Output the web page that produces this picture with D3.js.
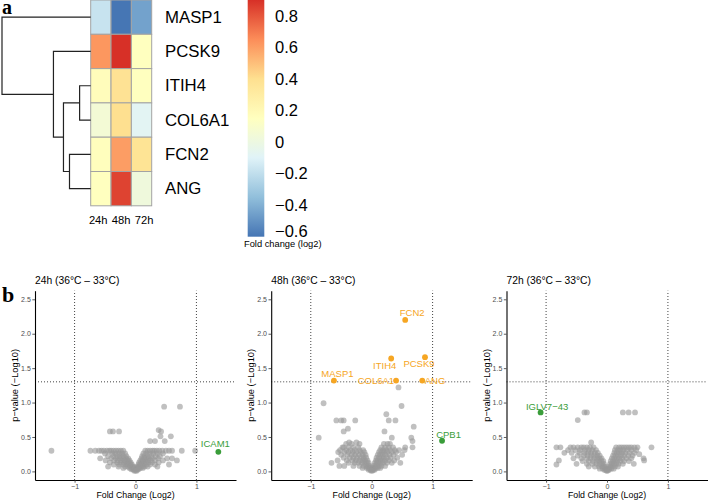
<!DOCTYPE html>
<html><head><meta charset="utf-8">
<script src="https://cdn.jsdelivr.net/npm/d3@7"></script>
<style>
body{margin:0;background:#fff}
svg{display:block}
text{font-family:"Liberation Sans",Arial,Helvetica,sans-serif}
</style>
</head><body>
<svg id="c" width="708" height="502"></svg>
<script>
// ---------------- DATA ----------------
const cols = ["24h", "48h", "72h"];
const genes = ["MASP1", "PCSK9", "ITIH4", "COL6A1", "FCN2", "ANG"];
const fc24 = [-0.18, 0.62, 0.17, 0.05, 0.16, 0.15];
const fc48 = [-0.60, 0.90, 0.38, 0.40, 0.60, 0.85];
const fc72 = [-0.45, 0.15, 0.15, -0.08, 0.37, 0.02];
const colorTicks = [-0.6, -0.4, -0.2, 0, 0.2, 0.4, 0.6, 0.8];
const colorRange = [-0.603, 0.9];
// hierarchical clustering merges (children: gene name or index of earlier merge), height
const merges = [
  {a: "ITIH4", b: "COL6A1", h: 0.125},
  {a: "FCN2", b: "ANG", h: 0.239},
  {a: 0, b: 1, h: 0.307},
  {a: "PCSK9", b: 2, h: 0.42},
  {a: "MASP1", b: 3, h: 1.0}
];

const panelTitles = ["24h (36\u00b0C \u2013 33\u00b0C)", "48h (36\u00b0C \u2013 33\u00b0C)", "72h (36\u00b0C \u2013 33\u00b0C)"];
const xTicks = [-1, 0, 1];
const yTicks = [0, 0.5, 1, 1.5, 2, 2.5];
const pCut = 1.301;      // -log10(0.05)
const fcCut = [-1, 1];

// grey (non-significant) proteins: [p-value(-log10), [fold changes...]]
const grey24 = [
  [0.94, [0.47, 0.73]],
  [0.60, [0.38]],
  [0.58, [-0.42, -0.37, -0.27, 0.42]],
  [0.51, [0.41, 0.58]],
  [0.44, [0.24, 0.32, 0.48]],
  [0.30, [-1.38, -0.74, -0.66, -0.6, -0.56, -0.52, -0.47, -0.43, -0.4, -0.36, -0.32, -0.28, -0.24, -0.2, 0.16, 0.2, 0.24, 0.28, 0.31, 0.35, 0.39, 0.44, 0.5, 0.55, 0.6, 0.76, 0.98]],
  [0.26, [-0.5, -0.38, -0.33, -0.27, -0.22, -0.17, 0.13, 0.18, 0.23, 0.29, 0.36, 0.45]],
  [0.22, [-0.45, -0.36, -0.3, -0.25, -0.2, -0.15, 0.11, 0.15, 0.2, 0.26, 0.33, 0.4]],
  [0.19, [-0.58, -0.4, -0.32, -0.26, -0.21, -0.16, -0.12, 0.1, 0.14, 0.18, 0.22, 0.28, 0.37, 0.52, 0.6]],
  [0.16, [-0.49, -0.35, -0.29, -0.23, -0.18, -0.13, -0.1, 0.08, 0.12, 0.16, 0.2, 0.25, 0.32, 0.45, 0.68]],
  [0.13, [-0.42, -0.3, -0.24, -0.19, -0.15, -0.11, -0.08, 0.06, 0.1, 0.13, 0.17, 0.21, 0.27, 0.38]],
  [0.10, [-0.36, -0.27, -0.2, -0.15, -0.11, -0.08, -0.06, 0.05, 0.08, 0.11, 0.14, 0.18, 0.24, 0.32, 0.55]],
  [0.07, [-0.45, -0.28, -0.17, -0.12, -0.08, -0.05, -0.03, 0.03, 0.06, 0.09, 0.12, 0.15, 0.2, 0.36]],
  [0.05, [-0.2, -0.1, -0.06, -0.03, 0.02, 0.05, 0.08, 0.12]],
  [0.03, [-0.07, -0.04, -0.02, 0.01, 0.03, 0.05]],
  [0.01, [-0.02, 0.0, 0.02]]
];
const grey48 = [
  [1.22, [0.44]],
  [0.99, [-0.79]],
  [0.95, [0.49]],
  [0.83, [0.24]],
  [0.74, [-0.58, -0.5, -0.46, -0.27, 0.28, 0.39]],
  [0.65, [0.69]],
  [0.62, [-0.39]],
  [0.58, [-0.46, 0.21]],
  [0.49, [-0.87, 0.65, 0.33]],
  [0.44, [0.67]],
  [0.42, [-0.37, -0.25]],
  [0.40, [-0.42, -0.33, -0.2, 0.2, 0.26, 0.3]],
  [0.35, [-0.48, -0.46, -0.38, -0.3, -0.22, 0.16, 0.22, 0.28, 0.35, 0.55, 0.67]],
  [0.31, [-0.52, -0.42, -0.35, -0.28, -0.2, -0.14, 0.14, 0.19, 0.24, 0.3, 0.38, 0.45, 0.54]],
  [0.28, [-0.55, -0.45, -0.38, -0.31, -0.25, -0.18, -0.12, 0.12, 0.17, 0.21, 0.26, 0.33, 0.4]],
  [0.24, [-0.5, -0.4, -0.33, -0.27, -0.21, -0.15, -0.1, 0.1, 0.14, 0.18, 0.23, 0.29, 0.36, 0.5]],
  [0.20, [-0.46, -0.36, -0.3, -0.24, -0.18, -0.13, -0.09, 0.08, 0.12, 0.16, 0.2, 0.25, 0.31, 0.42]],
  [0.16, [-0.56, -0.41, -0.32, -0.26, -0.2, -0.15, -0.11, -0.07, 0.07, 0.1, 0.14, 0.18, 0.22, 0.28, 0.37]],
  [0.125, [-0.66, -0.38, -0.28, -0.22, -0.16, -0.12, -0.08, -0.05, 0.05, 0.08, 0.11, 0.15, 0.19, 0.25, 0.33, 0.47]],
  [0.08, [-0.53, -0.45, -0.3, -0.2, -0.13, -0.09, -0.06, -0.03, 0.03, 0.06, 0.09, 0.12, 0.16, 0.22]],
  [0.05, [-0.15, -0.08, -0.05, -0.02, 0.02, 0.04, 0.07, 0.1, 0.14]],
  [0.025, [-0.05, -0.02, 0.01, 0.03, 0.05]],
  [0.01, [-0.01, 0.01]]
];
const grey72 = [
  [0.857, [-0.37, -0.33, 0.26, 0.355, 0.46]],
  [0.745, [-0.48]],
  [0.42, [-0.26]],
  [0.35, [-0.83, -0.765, -0.6, -0.55, -0.48, -0.42, -0.38, -0.33, -0.28, -0.22, 0.15, 0.2, 0.24, 0.28, 0.32, 0.36, 0.4, 0.45, 0.5, 0.73]],
  [0.31, [-0.64, -0.52, -0.44, -0.36, -0.3, -0.24, -0.18, 0.13, 0.18, 0.22, 0.27, 0.33, 0.4, 0.48]],
  [0.27, [-0.7, -0.58, -0.45, -0.37, -0.31, -0.26, -0.2, -0.15, 0.12, 0.16, 0.2, 0.25, 0.3, 0.37, 0.45]],
  [0.25, [0.53]],
  [0.23, [-0.48, -0.38, -0.32, -0.26, -0.21, -0.16, -0.12, 0.1, 0.14, 0.18, 0.23, 0.28, 0.35, 0.42]],
  [0.19, [-0.55, -0.42, -0.33, -0.27, -0.21, -0.16, -0.12, -0.09, 0.08, 0.12, 0.16, 0.2, 0.25, 0.32, 0.4, 0.6]],
  [0.16, [-0.79, 0.61]],
  [0.15, [-0.4, -0.3, -0.23, -0.17, -0.13, -0.09, -0.06, 0.06, 0.1, 0.13, 0.17, 0.22, 0.28, 0.36]],
  [0.11, [-0.5, -0.33, -0.24, -0.17, -0.12, -0.08, -0.05, 0.05, 0.08, 0.11, 0.15, 0.19, 0.26, 0.44]],
  [0.10, [-0.83]],
  [0.07, [-0.3, -0.2, -0.13, -0.08, -0.05, -0.03, 0.03, 0.06, 0.09, 0.13, 0.18]],
  [0.04, [-0.12, -0.07, -0.04, -0.02, 0.02, 0.04, 0.07, 0.11]],
  [0.02, [-0.04, -0.01, 0.01, 0.03]],
  [0.005, [0.0]]
];
// labelled proteins: panel, gene, fold change, p
const hitPanel = [0, 1, 1, 1, 1, 1, 1, 1, 2];
const hitGene  = ["ICAM1", "FCN2", "ITIH4", "PCSK9", "MASP1", "COL6A1", "ANG", "CPB1", "IGLV7\u221243"];
const hitFc    = [1.36, 0.55, 0.32, 0.875, -0.62, 0.40, 0.83, 1.155, -1.09];
const hitP     = [0.285, 2.20, 1.64, 1.66, 1.32, 1.32, 1.32, 0.445, 0.857];
const hitGroup = ["other", "heat", "heat", "heat", "heat", "heat", "heat", "other", "other"];

// ---------------- STYLE ----------------
const font = '"Liberation Sans",Arial,Helvetica,sans-serif';
const palette = ["#4575B4", "#91BFDB", "#E0F3F8", "#FFFFBF", "#FEE090", "#FC8D59", "#D73027"];
const groupColor = {heat: "#F6A623", other: "#3A9D3A"};
// label placement (dx, dy, anchor) relative to point
const labelPlace = {
  "ICAM1": [-3, -8.5, "middle"], "FCN2": [7, -7, "middle"], "ITIH4": [-6.5, 6.5, "middle"],
  "PCSK9": [-6, 6.5, "middle"], "MASP1": [3.5, -7.5, "middle"], "COL6A1": [-2, 0, "end"],
  "ANG": [2.5, 0, "start"], "CPB1": [6.5, -6.5, "middle"], "IGLV7\u221243": [6.5, -6, "middle"]
};

const svg = d3.select("#c");

// ---------------- HEATMAP (a) ----------------
const rowY = d3.scaleBand().domain(genes).range([0, 205.8]);
const colX = d3.scaleBand().domain(cols).range([90.7, 151.7]);
const color = d3.scaleLinear()
  .domain(palette.map((_, i) => colorRange[0] + i * (colorRange[1] - colorRange[0]) / (palette.length - 1)))
  .range(palette).interpolate(d3.interpolateRgb);
const valuesByCol = [fc24, fc48, fc72];

const cells = [];
genes.forEach((g, i) => cols.forEach((c, j) => cells.push({g, c, v: valuesByCol[j][i]})));
svg.append("g").selectAll("rect").data(cells).join("rect")
  .attr("x", d => colX(d.c)).attr("y", d => rowY(d.g))
  .attr("width", colX.bandwidth()).attr("height", rowY.bandwidth())
  .attr("fill", d => color(d.v)).attr("stroke", "#a3a3a3").attr("stroke-width", 1);

svg.append("g").selectAll("text").data(genes).join("text")
  .attr("x", 165).attr("y", d => rowY(d) + rowY.bandwidth() / 2)
  .attr("dominant-baseline", "central").attr("font-size", 16.8).attr("fill", "#000")
  .text(d => d);

// column labels (spread slightly wider than the cells, as in the original)
const colMid = colX(cols[1]) + colX.bandwidth() / 2;
svg.append("g").selectAll("text").data(cols).join("text")
  .attr("x", d => { const c = colX(d) + colX.bandwidth() / 2; return c + (c - colMid) * 0.13; })
  .attr("y", 223.5)
  .attr("text-anchor", "middle").attr("font-size", 11.2).attr("fill", "#000")
  .text(d => d);

// dendrogram
const dx = d3.scaleLinear().domain([0, 1]).range([90.7, 2]);
const nodes = [];
function nodeOf(k) {
  if (typeof k === "string") return {y: rowY(k) + rowY.bandwidth() / 2, h: 0};
  return nodes[k];
}
const dend = svg.append("g").attr("fill", "none").attr("stroke", "#222").attr("stroke-width", 1.2);
merges.forEach(m => {
  const A = nodeOf(m.a), B = nodeOf(m.b);
  const path = d3.path();
  path.moveTo(dx(A.h), A.y); path.lineTo(dx(m.h), A.y);
  path.lineTo(dx(m.h), B.y); path.lineTo(dx(B.h), B.y);
  dend.append("path").attr("d", path.toString());
  nodes.push({y: (A.y + B.y) / 2, h: m.h});
});

svg.append("text").attr("x", 2).attr("y", 14)
  .style("font-family", '"Liberation Serif","Times New Roman",serif')
  .attr("font-weight", "bold").attr("font-size", 20).text("a");

// color bar
const cb = d3.scaleLinear().domain(colorRange).range([236.7, 0]);
const defs = svg.append("defs");
const grad = defs.append("linearGradient").attr("id", "cbg")
  .attr("x1", 0).attr("y1", 1).attr("x2", 0).attr("y2", 0);
palette.forEach((p, i) => grad.append("stop").attr("offset", i / (palette.length - 1)).attr("stop-color", p));
svg.append("rect").attr("x", 247.7).attr("y", cb(colorRange[1]))
  .attr("width", 16.6).attr("height", cb(colorRange[0]) - cb(colorRange[1]))
  .attr("fill", "url(#cbg)");
const f1 = d3.format(".1f");
svg.append("g").selectAll("text").data(colorTicks).join("text")
  .attr("x", 275).attr("y", d => Math.min(cb(d), cb(colorRange[0]) - 5.5))
  .attr("dominant-baseline", "central").attr("font-size", 16.5).attr("fill", "#000")
  .text(d => d === 0 ? "0" : f1(d));
svg.append("text").attr("x", 244).attr("y", 247).attr("font-size", 9.3).attr("fill", "#000")
  .text("Fold change (log2)");

// ---------------- VOLCANO PLOTS (b) ----------------
svg.append("text").attr("x", 2).attr("y", 302)
  .style("font-family", '"Liberation Serif","Times New Roman",serif')
  .attr("font-weight", "bold").attr("font-size", 22).text("b");

const panelLeft = [35, 271.2, 506.5];
const panelW = 201;
const yScale = d3.scaleLinear().domain([-0.125, 2.625]).range([480, 290.7]);
const greys = [grey24, grey48, grey72];

panelLeft.forEach((L, k) => {
  const x = d3.scaleLinear().domain([-1.65, 1.65]).range([L, L + panelW]);
  const y = yScale;
  const g = svg.append("g");

  const pts = [];
  greys[k].forEach(([p, fcs]) => fcs.forEach(f => pts.push({f, p})));
  g.append("g").selectAll("circle").data(pts).join("circle")
    .attr("cx", d => x(d.f)).attr("cy", d => y(d.p)).attr("r", 2.9)
    .attr("fill", "#9a9a9a").attr("fill-opacity", 0.62);

  // threshold lines
  const ln = g.append("g").attr("stroke", "#444").attr("stroke-width", 1).attr("stroke-dasharray", "1,2");
  ln.append("line").attr("x1", x.range()[0]).attr("x2", x.range()[1]).attr("y1", y(pCut)).attr("y2", y(pCut));
  fcCut.forEach(c => ln.append("line").attr("x1", x(c)).attr("x2", x(c)).attr("y1", y.range()[0]).attr("y2", y.range()[1]));

  // highlighted proteins
  const hits = hitGene.map((gname, i) => ({gname, f: hitFc[i], p: hitP[i], grp: hitGroup[i], panel: hitPanel[i]}))
    .filter(d => d.panel === k);
  g.append("g").selectAll("circle").data(hits).join("circle")
    .attr("cx", d => x(d.f)).attr("cy", d => y(d.p)).attr("r", 2.9)
    .attr("fill", d => groupColor[d.grp]);
  g.append("g").selectAll("text").data(hits).join("text")
    .attr("x", d => x(d.f) + labelPlace[d.gname][0])
    .attr("y", d => y(d.p) + labelPlace[d.gname][1])
    .attr("text-anchor", d => labelPlace[d.gname][2])
    .attr("dominant-baseline", "central")
    .attr("font-size", 9.5).attr("fill", d => groupColor[d.grp])
    .text(d => d.gname);

  // axes
  const ax = g.append("g").attr("transform", `translate(${L},0)`)
    .call(d3.axisLeft(y).tickValues(yTicks).tickFormat(d3.format(".1f")).tickSize(2.7).tickSizeOuter(0).tickPadding(1.5));
  const bx = g.append("g").attr("transform", `translate(0,${y.range()[0]})`)
    .call(d3.axisBottom(x).tickValues(xTicks).tickFormat(d3.format("d")).tickSize(2.7).tickSizeOuter(0).tickPadding(1.5));
  [ax, bx].forEach(a => {
    a.select(".domain").attr("stroke", "#000").attr("stroke-width", 1.1);
    a.selectAll(".tick line").attr("stroke", "#333").attr("stroke-width", 0.8);
    a.selectAll(".tick text").attr("fill", "#4d4d4d").attr("font-size", 7).style("font-family", font);
  });

  // titles
  g.append("text").attr("x", L).attr("y", 284).attr("font-size", 10.3).attr("fill", "#000").text(panelTitles[k]);
  g.append("text").attr("x", L + panelW / 2).attr("y", 498).attr("text-anchor", "middle")
    .attr("font-size", 8.8).attr("fill", "#000").text("Fold Change (Log2)");
  g.append("text").attr("transform", `translate(${L - 17},${(y.range()[0] + y.range()[1]) / 2}) rotate(-90)`)
    .attr("text-anchor", "middle").attr("font-size", 9.3).attr("fill", "#000").text("p\u2212value (\u2212Log10)");
});
</script>
</body></html>
